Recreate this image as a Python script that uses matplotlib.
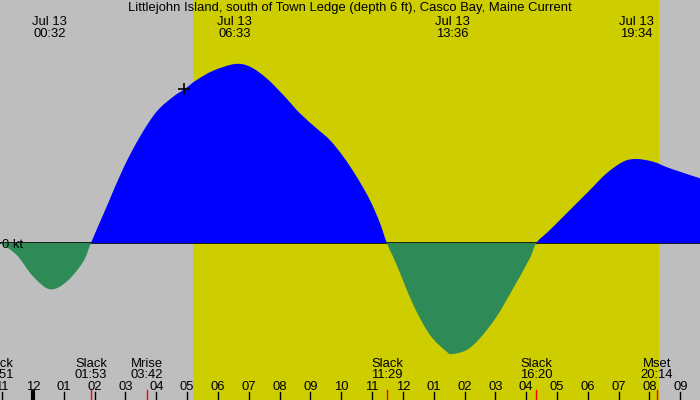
import matplotlib
matplotlib.use("Agg")
import matplotlib.pyplot as plt
import matplotlib.transforms as mtransforms
from matplotlib.path import Path
from matplotlib.patches import PathPatch

# ---- data ----
title = "Littlejohn Island, south of Town Ledge (depth 6 ft), Casco Bay, Maine Current"

# current speed (kt) vs hours since midnight Jul 13
hours = [-1.07, -0.53, 0.01, 0.55, 1.09, 1.63, 1.88, 2.39, 2.93, 3.47, 4.01, 4.55,
         4.91, 5.31, 5.85, 6.55, 7.04, 7.58, 8.12, 8.66, 9.20, 9.63, 10.07, 10.50,
         10.93, 11.26, 11.48, 11.80, 12.34, 12.88, 13.42, 13.60, 14.07, 14.50,
         15.04, 15.58, 16.12, 16.33, 16.77, 17.42, 18.07, 18.61, 19.15, 19.57,
         20.12, 20.66, 21.64]
speed = [0.0, -0.12, -0.337, -0.463, -0.387, -0.187, 0.0, 0.363, 0.747, 1.063, 1.313, 1.463,
         1.537, 1.63, 1.723, 1.79, 1.763, 1.647, 1.48, 1.297, 1.147, 1.03, 0.863, 0.663,
         0.43, 0.197, 0.0, -0.22, -0.62, -0.92, -1.087, -1.11, -1.07, -0.953,
         -0.737, -0.453, -0.153, 0.0, 0.13, 0.33, 0.53, 0.697, 0.813, 0.84,
         0.813, 0.747, 0.647]

sunrise = 5 + 11 / 60
sunset = 20 + 18 / 60

peak_labels = ["00:32", "06:33", "13:36", "19:34"]
peak_date = "Jul 13"

event_names = ["Slack", "Slack", "Mrise", "Slack", "Slack", "Mset"]
event_times = ["22:51", "01:53", "03:42", "11:29", "16:20", "20:14"]
event_day_offset = [-1, 0, 0, 0, 0, 0]

hour_ticks = list(range(-1, 22))
hour_labels = ["11", "12", "01", "02", "03", "04", "05", "06", "07", "08", "09", "10", "11",
               "12", "01", "02", "03", "04", "05", "06", "07", "08", "09"]

marker_time = 4.91
marker_speed = 1.54

xmin, xmax = -1.07, 21.64
ymin, ymax = -1.57, 2.43

def to_h(s, off=0):
    h, m = s.split(":")
    return int(h) + int(m) / 60 + 24 * off

# ---- plot ----
plt.rcParams['font.family'] = ['Liberation Sans', 'DejaVu Sans']
fig = plt.figure(figsize=(7, 4), dpi=100)
ax = fig.add_axes([0, 0, 1, 1])
ax.set_xlim(xmin, xmax)
ax.set_ylim(ymin, ymax)
ax.axis('off')
ax.add_patch(plt.Rectangle((0, 0), 1, 1, transform=ax.transAxes, color='#BEBEBE', zorder=0))
ax.axvspan(sunrise, sunset, color='#CDCD00', zorder=1, lw=0)

ax.axhline(0, color='black', lw=1.2, zorder=2)

# smooth filled lobes between slack points, drawn as Bezier paths through the read points
n = len(hours)
pts = list(zip(hours, speed))
def ctrl(i):
    p_prev = pts[max(i - 1, 0)]
    p0 = pts[i]
    p1 = pts[i + 1]
    p_next = pts[min(i + 2, n - 1)]
    c1 = (p0[0] + (p1[0] - p_prev[0]) / 6, p0[1] + (p1[1] - p_prev[1]) / 6)
    c2 = (p1[0] - (p_next[0] - p0[0]) / 6, p1[1] - (p_next[1] - p0[1]) / 6)
    return c1, c2

zero_idx = [i for i, v in enumerate(speed) if v == 0.0]
bounds = sorted(set([0] + zero_idx + [n - 1]))
for a, b in zip(bounds[:-1], bounds[1:]):
    if b <= a:
        continue
    verts = [(hours[a], 0.0), pts[a]]
    codes = [Path.MOVETO, Path.LINETO]
    for i in range(a, b):
        c1, c2 = ctrl(i)
        verts += [c1, c2, pts[i + 1]]
        codes += [Path.CURVE4] * 3
    verts += [(hours[b], 0.0), (hours[a], 0.0)]
    codes += [Path.LINETO, Path.CLOSEPOLY]
    sign = sum(speed[a:b + 1])
    color = '#0000FF' if sign > 0 else '#2E8B57'
    ax.add_patch(PathPatch(Path(verts, codes), facecolor=color, edgecolor='none', zorder=3))

ax.plot([marker_time], [marker_speed], marker='+', color='black', ms=9, mew=1.2, zorder=5)

fs = 9.4
ax.text(0.003, -0.02, "0 kt", transform=mtransforms.blended_transform_factory(ax.transAxes, ax.transData),
        ha='left', va='center', fontsize=fs, zorder=6)

def ypx(p):
    return 1 - p / 400

ax.text(0.5, ypx(11), title, transform=ax.transAxes, ha='center', va='baseline', fontsize=fs, zorder=6)
bt = mtransforms.blended_transform_factory(ax.transData, ax.transAxes)
for lab in peak_labels:
    t = to_h(lab)
    ax.text(t, ypx(25), peak_date, transform=bt, ha='center', va='baseline', fontsize=fs, zorder=6)
    ax.text(t, ypx(37), lab, transform=bt, ha='center', va='baseline', fontsize=fs, zorder=6)

for name, tm, off in zip(event_names, event_times, event_day_offset):
    t = to_h(tm, off)
    ax.text(t, ypx(367), name, transform=bt, ha='center', va='baseline', fontsize=fs, zorder=6)
    ax.text(t, ypx(378), tm, transform=bt, ha='center', va='baseline', fontsize=fs, zorder=6)
    ax.plot([t, t], [0, ypx(390)], transform=bt, color='red', lw=1, zorder=6)

for h, lab in zip(hour_ticks, hour_labels):
    ax.text(h, ypx(390), lab, transform=bt, ha='center', va='baseline', fontsize=fs, zorder=6)
    lw = 3 if h % 24 == 0 else 1
    ax.plot([h, h], [0, ypx(392)], transform=bt, color='black', lw=lw, zorder=6)

fig.savefig("out.png", dpi=100)
